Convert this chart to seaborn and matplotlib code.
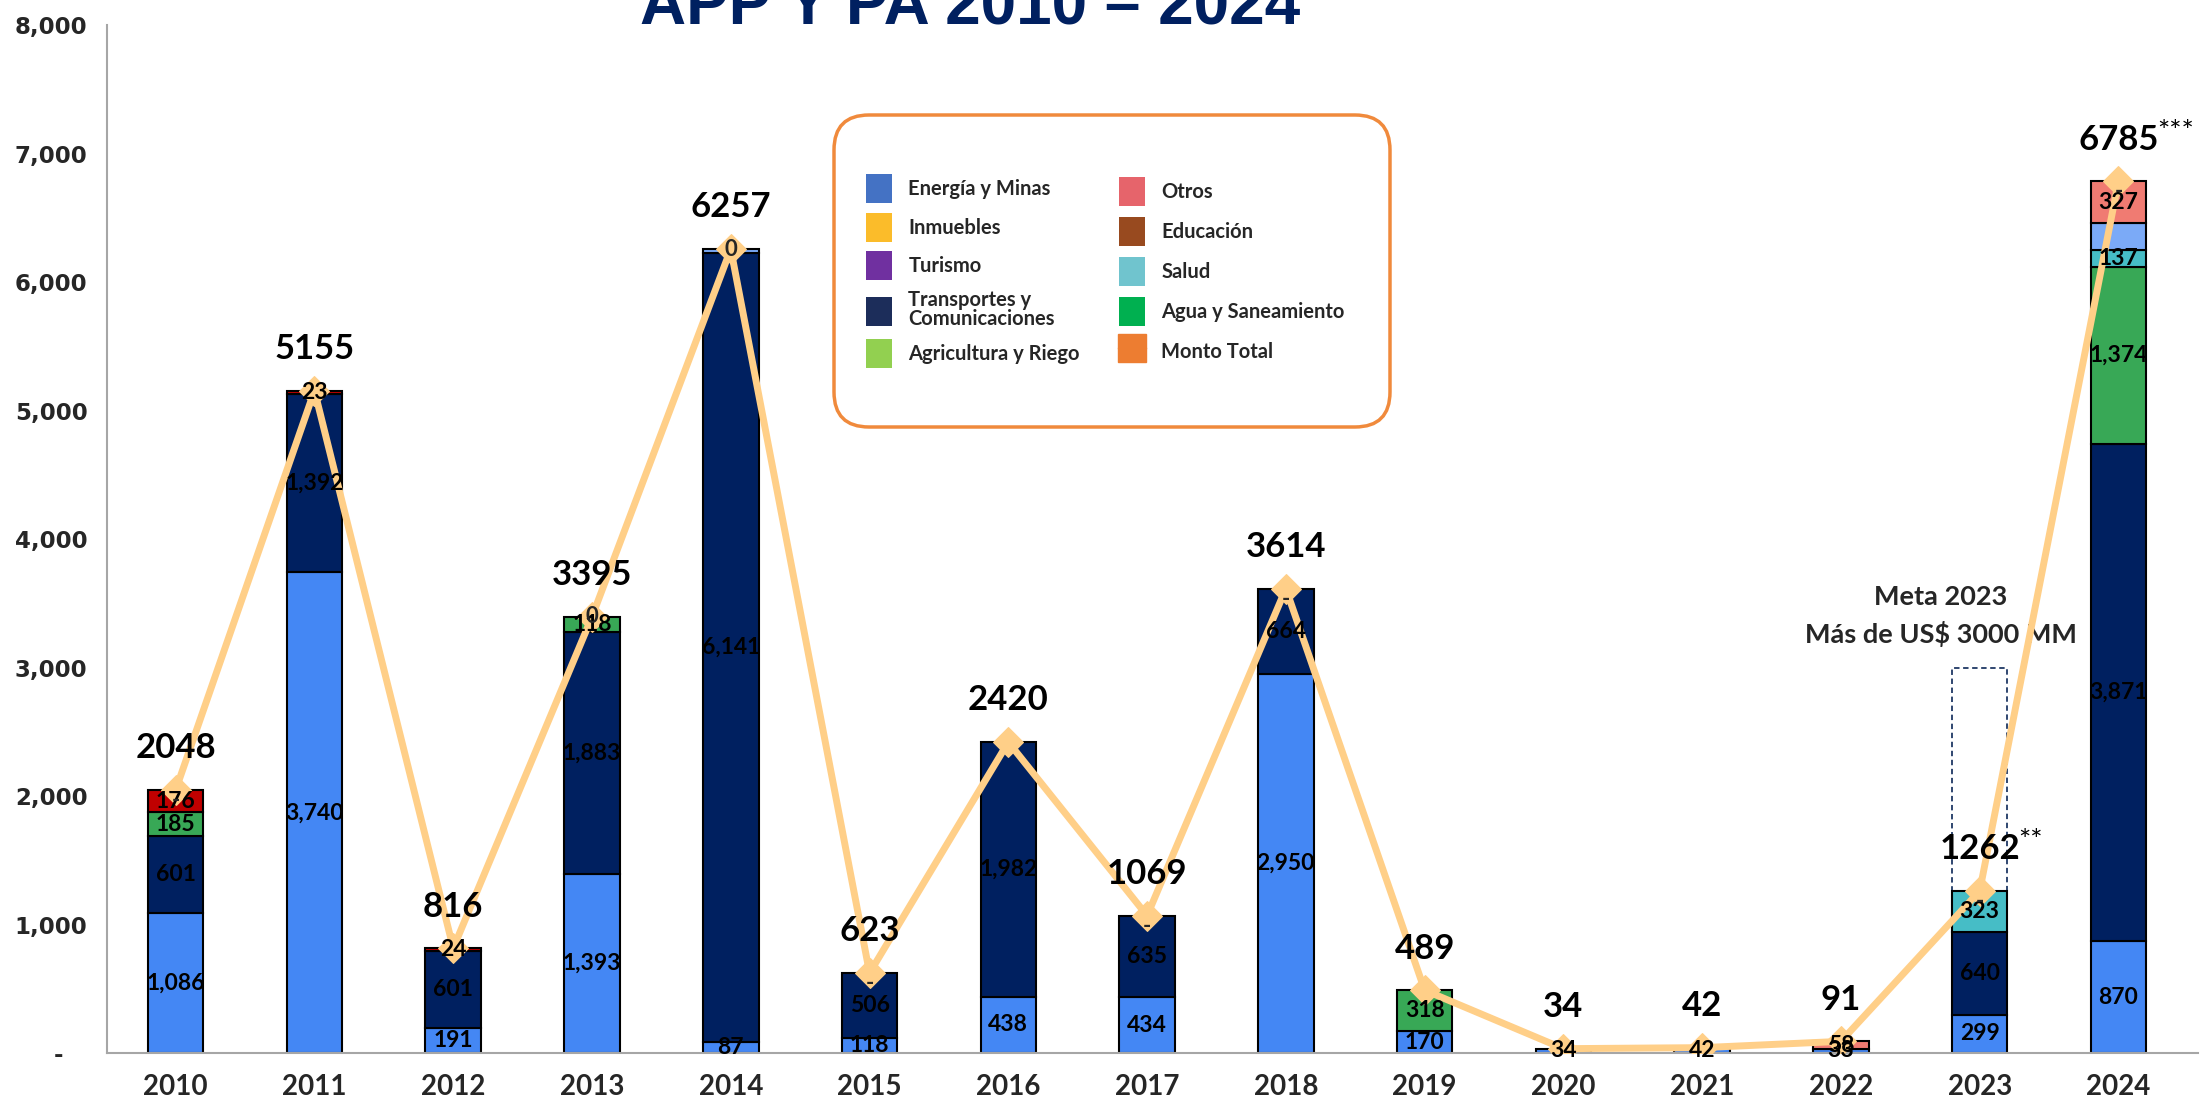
import numpy as np
import pandas as pd
import seaborn as sns
import matplotlib.pyplot as plt
from matplotlib.patches import FancyBboxPatch, Patch
from matplotlib.lines import Line2D
from matplotlib.ticker import FuncFormatter

#%%
# Datos (millones de US$)
years = ['2010', '2011', '2012', '2013', '2014', '2015', '2016', '2017',
         '2018', '2019', '2020', '2021', '2022', '2023', '2024']
energia = [1086, 3740, 191, 1393, 87, 118, 438, 434, 2950, 170, 34, 42, 33, 299, 870]
transportes = [601, 1392, 601, 1883, 6141, 506, 1982, 635, 664, 0, 0, 0, 0, 640, 3871]
agua = [185, 0, 0, 118, 0, 0, 0, 0, 0, 318, 0, 0, 0, 0, 1374]
salud = [0, 0, 0, 0, 0, 0, 0, 0, 0, 0, 0, 0, 0, 323, 137]
varios = [0, 0, 0, 0, 29, 0, 0, 0, 0, 0, 0, 0, 0, 0, 206]
otros_rojo = [176, 23, 24, 0, 0, 0, 0, 0, 0, 0, 0, 0, 0, 0, 0]
otros = [0, 0, 0, 0, 0, 0, 0, 0, 0, 0, 0, 0, 58, 0, 327]
totales = [2048, 5155, 816, 3395, 6257, 623, 2420, 1069, 3614, 489, 34, 42, 91, 1262, 6785]
meta_2023 = 3000
guion_years = ['2010', '2015', '2017', '2018', '2023', '2024']
cero_years = ['2013', '2014']
notas = {'2023': '**', '2024': '***'}

leg_col1 = ['Energía y Minas', 'Inmuebles', 'Turismo', 'Transportes y\nComunicaciones', 'Agricultura y Riego']
leg_col1_colors = ['#4472C4', '#FBBC2A', '#7030A0', '#1C2D5A', '#92D050']
leg_col2 = ['Otros', 'Educación', 'Salud', 'Agua y Saneamiento']
leg_col2_colors = ['#E6646B', '#984A1F', '#70C4CE', '#00B050']

#%%
sns.set_style('white')
plt.rcParams['font.family'] = ['Lato', 'DejaVu Sans']

fig = plt.figure(figsize=(22.02, 11.08), dpi=100)
ax = fig.add_axes([0.0486, 0.0496, 0.9494, 0.9278])

capas = [(energia, '#4487F4', True),
         (transportes, '#002060', True),
         (agua, '#38A856', True),
         (salud, '#46BDC6', True),
         (varios, '#7BAAF7', False),
         (otros_rojo, '#C00000', True),
         (otros, '#F07B72', True)]

# meta 2023 (caja punteada)
ax.bar(years.index('2023'), meta_2023, width=0.4, fill=False, edgecolor='#1F3864',
       linestyle=(0, (3, 2)), linewidth=1.3, zorder=1)

base = np.zeros(len(years))
for valores, color, etiquetar in capas:
    df = pd.DataFrame({'anio': years, 'monto': valores, 'base': base})
    df = df[df['monto'] > 0]
    sns.barplot(data=df, x='anio', y='monto', order=years, color=color, width=0.4,
                saturation=1, errorbar=None, bottom=df['base'].values,
                edgecolor='black', linewidth=1.5, ax=ax, zorder=2)
    if etiquetar:
        for _, r in df.iterrows():
            i = years.index(r['anio'])
            ax.text(i, r['base'] + r['monto'] / 2, f"{int(r['monto']):,}", ha='center',
                    va='center', fontsize=16.5, fontweight='bold', color='black', zorder=6)
    base = base + np.array(valores)

# linea del monto total
sns.lineplot(x=np.arange(len(years)), y=totales, color='#FFCF88', linewidth=5,
             marker='D', markersize=15, markeredgecolor='#FFCF88', ax=ax, zorder=4)

for i, t in enumerate(totales):
    ax.annotate(str(t), (i, t), xytext=(0, 30), textcoords='offset points', ha='center',
                va='center', fontsize=25, fontweight='bold', color='black', zorder=7)
    if years[i] in notas:
        ax.annotate(notas[years[i]], (i, t), xytext=(28, 35), textcoords='offset points',
                    ha='left', va='center', fontsize=21, color='black', zorder=7)
    if years[i] in guion_years:
        ax.text(i, t, '-', ha='center', va='top', fontsize=16, fontweight='bold', zorder=6)
    if years[i] in cero_years:
        ax.text(i, t, '0', ha='center', va='center', fontsize=16, fontweight='bold', zorder=6)

ax.text(years.index('2023') - 0.28, 3400, 'Meta 2023\nMás de US$ 3000 MM', ha='center',
        va='center', fontsize=19.5, fontweight='bold', linespacing=1.55)

#%%
# ejes
ax.set_xlim(-0.495, 14.57)
ax.set_ylim(0, 8000)
ax.set_xlabel('')
ax.set_ylabel('')
ax.set_xticks(range(len(years)))
ax.set_xticklabels(years, fontsize=20, fontweight='bold')
ax.set_yticks(range(0, 8001, 1000))
ax.yaxis.set_major_formatter(FuncFormatter(lambda v, p: '-   ' if v == 0 else f'{v:,.0f}'))
for lbl in ax.get_yticklabels():
    lbl.set_family('DejaVu Sans')
    lbl.set_fontweight('bold')
    lbl.set_fontsize(16.5)
ax.tick_params(axis='x', length=0, pad=15)
ax.tick_params(axis='y', length=0, pad=14)
ax.grid(False)
for s in ['top', 'right']:
    ax.spines[s].set_visible(False)
for s in ['left', 'bottom']:
    ax.spines[s].set_color('#A6A6A6')
    ax.spines[s].set_linewidth(1.5)

fig.text(0.4406, 0.978, 'APP Y PA 2010 – 2024', ha='center', va='baseline', fontsize=46,
         fontweight='bold', color='#002060', family=['Liberation Sans', 'DejaVu Sans'])

#%%
# leyenda
marco = FancyBboxPatch((8.34, 6.81), 5.56, 3.12, boxstyle='round,pad=0,rounding_size=0.35',
                       transform=fig.dpi_scale_trans, facecolor='white', edgecolor='#F08A3C',
                       linewidth=2.5, zorder=3)
fig.add_artist(marco)

h1 = [Patch(facecolor=c, edgecolor='none', label=l) for l, c in zip(leg_col1, leg_col1_colors)]
h2 = [Patch(facecolor=c, edgecolor='none', label=l) for l, c in zip(leg_col2, leg_col2_colors)]
h2.append(Line2D([0], [0], color='#ED7D31', lw=2.5, marker='s', markersize=20,
                 markeredgecolor='#ED7D31', label='Monto Total'))
prop = dict(family='Lato', weight='bold', size=14.5)
for hs, x0, y0, sp in [(h1, 866, 174, 0.48), (h2, 1119, 177, 0.55)]:
    leg = fig.legend(handles=hs, loc='upper left', bbox_to_anchor=(x0 / 2202, 1 - y0 / 1108),
                     bbox_transform=fig.transFigure, frameon=False, borderpad=0, borderaxespad=0,
                     handlelength=1.3, handleheight=1.84, handletextpad=0.8, labelspacing=sp,
                     prop=prop, labelcolor='#262626')
    for t in leg.get_texts():
        t.set_linespacing(0.95)

fig.savefig('out.png', dpi=100)
